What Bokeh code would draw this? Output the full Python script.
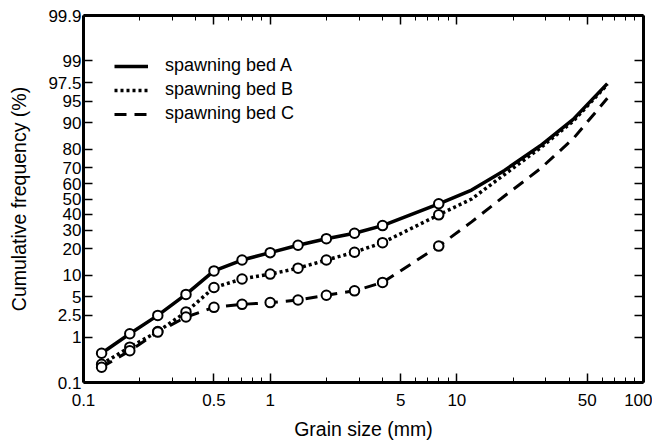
from statistics import NormalDist
from bokeh.plotting import figure
from bokeh.models import Range1d, FixedTicker, LogAxis, LinearAxis, Legend, LegendItem
from bokeh.embed import file_html
from bokeh.resources import INLINE

# ---- data ----
sieve_mm = [0.125, 0.177, 0.25, 0.354, 0.5, 0.707, 1.0, 1.41, 2.0, 2.83, 4.0, 8.0]
bed_a = [0.47, 1.16, 2.5, 5.4, 11.3, 15.2, 18.3, 21.8, 25.2, 28.2, 32.7, 46.8]
bed_b = [0.27, 0.63, 1.28, 2.85, 6.8, 8.9, 10.3, 12.2, 15.2, 18.5, 23.1, 39.5]
bed_c = [0.23, 0.53, 1.25, 2.34, 3.4, 3.8, 4.05, 4.45, 5.25, 6.1, 8.0, 21.4]
tail_mm = [12, 18, 28, 42, 64]
tail_a = [56, 68.5, 81.5, 91, 97.4]
tail_b = [50, 66, 80.5, 90.5, 97.3]
tail_c = [35, 52, 69.5, 84.5, 95.5]
labels = ["spawning bed A", "spawning bed B", "spawning bed C"]
y_ticks = [0.1, 1, 2.5, 5, 10, 20, 30, 40, 50, 60, 70, 80, 90, 95, 97.5, 99, 99.9]
y_tick_labels = ["0.1", "1", "2.5", "5", "10", "20", "30", "40", "50", "60", "70",
                 "80", "90", "95", "97.5", "99", "99.9"]
x_ticks = [0.1, 0.5, 1, 5, 10, 50, 100]
x_tick_labels = ["0.1", "0.5", "1", "5", "10", "50", "100"]
x_minor = [0.2, 0.3, 0.4, 0.6, 0.7, 0.8, 0.9, 2, 3, 4, 6, 7, 8, 9,
           20, 30, 40, 60, 70, 80, 90]

nd = NormalDist()
def probit(vals):
    return [nd.inv_cdf(v / 100.0) for v in vals]

FONT = "Liberation Sans"

z_lo, z_hi = probit([0.1, 99.9])
p = figure(width=652, height=448, x_axis_type="log",
           x_range=Range1d(0.1, 100), y_range=Range1d(z_lo, z_hi),
           output_backend="svg", toolbar_location=None,
           min_border_left=83, min_border_right=9, min_border_top=15, min_border_bottom=66)
p.outline_line_color = None
p.xgrid.visible = False
p.ygrid.visible = False

z_ticks = probit(y_ticks)

# bottom axis
xa = p.xaxis[0]
xa.ticker = FixedTicker(ticks=x_ticks, minor_ticks=x_minor)
xa.major_label_overrides = {t: l for t, l in zip(x_ticks, x_tick_labels)}
# left axis
ya = p.yaxis[0]
ya.ticker = FixedTicker(ticks=z_ticks)
ya.major_label_overrides = {t: l for t, l in zip(z_ticks, y_tick_labels)}

top = LogAxis(ticker=FixedTicker(ticks=x_ticks, minor_ticks=x_minor))
right = LinearAxis(ticker=FixedTicker(ticks=z_ticks))
p.add_layout(top, "above")
p.add_layout(right, "right")

for ax in [xa, ya, top, right]:
    ax.axis_line_width = 3
    ax.axis_line_color = "black"
    ax.major_tick_in = 9
    ax.major_tick_out = 0
    ax.minor_tick_in = 5
    ax.minor_tick_out = 0
    ax.major_tick_line_color = "black"
    ax.minor_tick_line_color = "black"
    ax.major_tick_line_width = 1.5
    ax.minor_tick_line_width = 1
    ax.major_label_text_font = FONT
    ax.major_label_text_font_size = "17px"
    ax.major_label_text_color = "black"

for ax in [top, right]:
    ax.major_label_text_font_size = "0px"
    ax.major_label_standoff = 0
    ax.major_label_overrides = {}
ya.minor_tick_line_color = None
right.minor_tick_line_color = None
xa.major_label_standoff = 11
ya.major_label_standoff = 2

xa.axis_label = "Grain size (mm)"
ya.axis_label = "Cumulative frequency (%)"
for ax in [xa, ya]:
    ax.axis_label_text_font = FONT
    ax.axis_label_text_font_size = "19.5px"
    ax.axis_label_text_font_style = "normal"
    ax.axis_label_text_color = "black"
xa.axis_label_standoff = 9
ya.axis_label_standoff = 15

series = [(bed_a, tail_a, None, 3.5), (bed_b, tail_b, "3 3", 3.5), (bed_c, tail_c, "12 8", 3)]
items = []
for (vals, tail, dash, lw), lab in zip(series, labels):
    xs = sieve_mm + tail_mm
    zs = probit(vals + tail)
    kw = {} if dash is None else {"line_dash": dash}
    r = p.line(xs, zs, line_color="black", line_width=lw, **kw)
    p.scatter(sieve_mm, probit(vals), marker="circle", size=9.5,
              fill_color="white", line_color="black", line_width=2)
    items.append(LegendItem(label=lab, renderers=[r]))

legend = Legend(items=items, location=(31, 258), border_line_color=None,
                background_fill_alpha=0, label_text_font=FONT,
                label_text_font_size="18px", label_text_color="black",
                glyph_width=34, glyph_height=20, label_height=20,
                label_standoff=17, spacing=3, padding=0, margin=0)
p.add_layout(legend)

open("out.html", "w").write(file_html(p, INLINE))
